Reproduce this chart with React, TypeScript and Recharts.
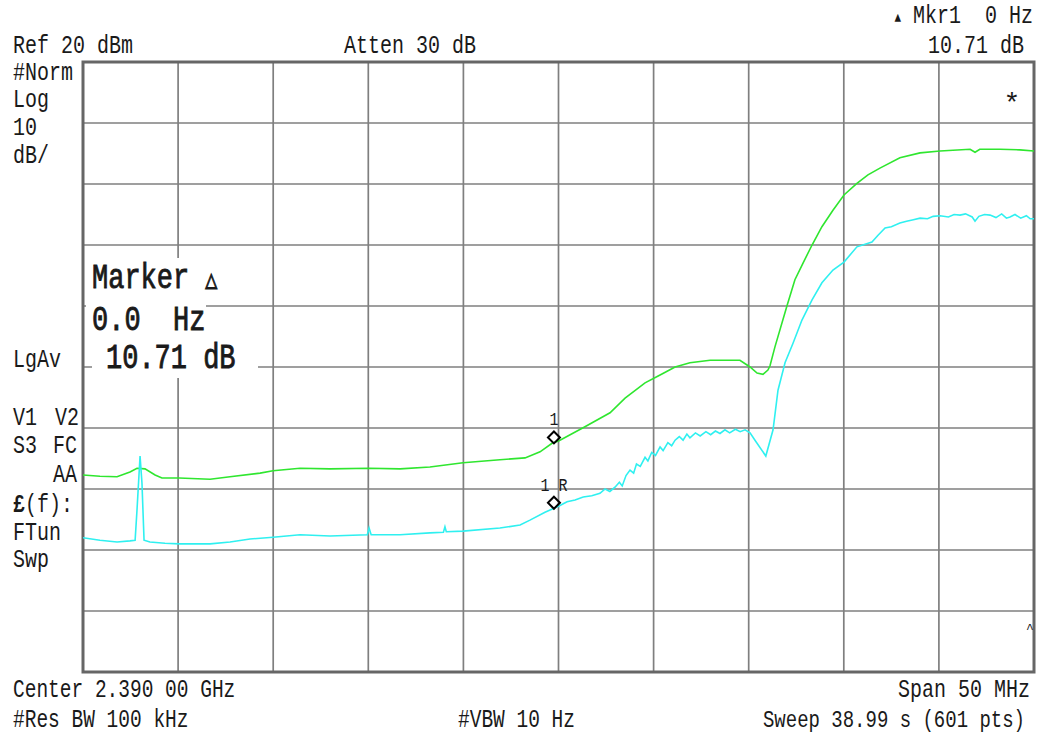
import React from "react";
import { LineChart, Line, XAxis, YAxis, CartesianGrid, ReferenceArea, ReferenceDot } from "recharts";

// Frequency axis (MHz): center 2390 MHz, span 50 MHz
const freqDomain = [2365, 2415];
const freqGridTicks = [2365, 2370, 2375, 2380, 2385, 2390, 2395, 2400, 2405, 2410, 2415];
// Level axis (dB): Ref 20 dBm, 10 dB/div
const levelDomain = [-80, 20];
const levelGridTicks = [20, 10, 0, -10, -20, -30, -40, -50, -60, -70, -80];

// Trace 1 (green)
const greenFreq = [
  2365.0, 2365.89, 2366.79, 2367.47, 2367.84, 2368.26, 2368.79, 2369.15, 2370.05, 2371.68,
  2372.73, 2374.31, 2374.99, 2376.41, 2377.99, 2380.04, 2381.67, 2383.24, 2384.98, 2386.92,
  2388.24, 2389.03, 2389.66, 2390.03, 2391.39, 2392.71, 2393.5, 2394.55, 2395.34, 2396.13,
  2396.91, 2397.97, 2399.54, 2400.07, 2400.44, 2400.75, 2401.01, 2401.12, 2401.38, 2402.01,
  2402.43, 2402.85, 2403.33, 2403.85, 2404.43, 2405.01, 2405.69, 2406.27, 2406.9, 2407.95,
  2409.01, 2410.06, 2411.64, 2411.9, 2412.15, 2413.21, 2414.26, 2415.0,
];
const greenLevel = [
  -47.7, -47.9, -48.0, -47.2, -46.6, -46.7, -47.7, -48.2, -48.2, -48.4,
  -48.0, -47.4, -47.0, -46.6, -46.7, -46.6, -46.7, -46.4, -45.7, -45.2,
  -44.9, -43.9, -42.5, -42.1, -39.8, -37.5, -35.1, -32.6, -31.3, -30.0,
  -29.3, -28.9, -28.9, -30.0, -31.0, -31.2, -30.5, -29.8, -26.7, -20.0,
  -15.7, -13.0, -10.0, -7.0, -4.3, -1.8, 0.1, 1.5, 2.6, 4.3,
  5.1, 5.4, 5.7, 5.2, 5.7, 5.7, 5.6, 5.4,
];

// Trace 2 (cyan)
const cyanFreq = [
  2365.0, 2365.89, 2366.79, 2367.47, 2367.74, 2367.84, 2368.0, 2368.1, 2368.21, 2368.52,
  2369.31, 2370.05, 2371.68, 2372.73, 2373.78, 2374.99, 2376.41, 2377.99, 2379.95, 2380.04,
  2380.15, 2381.67, 2383.24, 2383.95, 2384.03, 2384.1, 2384.98, 2386.92, 2387.98, 2388.5,
  2389.29, 2390.03, 2390.45, 2390.87, 2391.3, 2391.75, 2392.18, 2392.45, 2392.7, 2392.97,
  2393.2, 2393.35, 2393.55, 2393.76, 2393.95, 2394.1, 2394.3, 2394.55, 2394.7, 2394.9,
  2395.1, 2395.34, 2395.5, 2395.75, 2395.95, 2396.13, 2396.35, 2396.55, 2396.75, 2396.91,
  2397.2, 2397.45, 2397.75, 2398.0, 2398.25, 2398.49, 2398.75, 2399.0, 2399.3, 2399.55,
  2399.81, 2400.07, 2400.33, 2400.9, 2401.28, 2401.54, 2401.91, 2402.33, 2402.8, 2403.33,
  2403.85, 2404.43, 2405.01, 2405.69, 2406.48, 2406.8, 2407.17, 2407.5, 2407.95, 2408.3,
  2408.6, 2409.01, 2409.4, 2409.7, 2410.06, 2410.5, 2410.8, 2411.11, 2411.4, 2411.75,
  2411.9, 2412.1, 2412.4, 2412.69, 2413.0, 2413.3, 2413.55, 2413.74, 2414.0, 2414.3,
  2414.6, 2414.8, 2415.0,
];
const cyanLevel = [
  -58.0, -58.4, -58.7, -58.5, -58.4, -53.4, -44.6, -49.0, -58.4, -58.7,
  -58.9, -59.0, -59.0, -58.7, -58.2, -57.9, -57.5, -57.7, -57.5, -56.4,
  -57.5, -57.5, -57.2, -57.1, -56.2, -57.0, -56.9, -56.4, -55.9, -55.1,
  -53.8, -52.8, -52.1, -51.8, -51.3, -51.1, -50.7, -50.0, -50.4, -49.7,
  -48.9, -49.5, -47.8, -46.9, -47.4, -45.9, -46.3, -44.8, -45.4, -44.0,
  -44.5, -43.1, -43.7, -42.4, -42.9, -42.0, -41.4, -42.0, -41.0, -41.6,
  -40.8, -41.3, -40.6, -41.1, -40.5, -40.9, -40.3, -40.8, -40.2, -40.6,
  -40.3, -40.8, -42.0, -44.6, -40.3, -33.8, -29.3, -26.1, -22.3, -19.0,
  -16.2, -14.1, -12.8, -10.3, -9.5, -8.4, -7.2, -7.0, -6.4, -6.1,
  -5.9, -5.6, -5.7, -5.3, -5.2, -5.4, -5.0, -5.1, -4.9, -5.4,
  -6.1, -5.3, -5.0, -5.1, -5.5, -4.9, -5.6, -5.4, -5.0, -5.6,
  -5.2, -5.7, -5.7,
];

// Markers
const marker1 = { f: 2389.76, level: -41.55, label: "1" };
const marker1R = { f: 2389.76, level: -52.26, label: "1 R" };

const greenData = greenFreq.map((f, i) => ({ f, v: greenLevel[i] }));
const cyanData = cyanFreq.map((f, i) => ({ f, v: cyanLevel[i] }));

const FONT = "'Liberation Mono', 'DejaVu Sans Mono', monospace";
const INK = "#1a1a1a";

type TProps = {
  x: number;
  y: number;
  size?: number;
  anchor?: "start" | "middle" | "end";
  sy?: number;
  heavy?: boolean;
  children: React.ReactNode;
};
const T = ({ x, y, size = 20, anchor = "start", sy = 1.3, heavy = false, children }: TProps) => (
  <text
    transform={`translate(${x},${y}) scale(1,${sy})`}
    fontSize={size}
    textAnchor={anchor}
    fontFamily={FONT}
    fill={INK}
    stroke={heavy ? INK : "none"}
    strokeWidth={heavy ? 0.7 : 0}
    style={{ whiteSpace: "pre" }}
    xmlSpace="preserve"
  >
    {children}
  </text>
);

const Diamond = (props: any) => {
  const { cx, cy, label } = props;
  if (cx == null || cy == null) return null;
  return (
    <g>
      <polygon
        points={`${cx},${cy - 6} ${cx + 6},${cy} ${cx},${cy + 6} ${cx - 6},${cy}`}
        fill="none"
        stroke="#000"
        strokeWidth={2}
      />
      <text
        transform={`translate(${cx},${cy - 12}) scale(1,1.25)`}
        fontSize={15}
        textAnchor="middle"
        fontFamily={FONT}
        fill={INK}
        style={{ whiteSpace: "pre" }}
      >
        {label}
      </text>
    </g>
  );
};

export default function App() {
  return (
    <div style={{ position: "absolute", left: 0, top: 0, width: 1052, height: 735, background: "#fff" }}>
      <LineChart
        width={1052}
        height={735}
        margin={{ top: 62, left: 83, right: 18, bottom: 63 }}
      >
        <XAxis
          type="number"
          dataKey="f"
          domain={freqDomain}
          ticks={freqGridTicks}
          allowDataOverflow
          hide
        />
        <YAxis type="number" domain={levelDomain} ticks={levelGridTicks} allowDataOverflow hide />
        <CartesianGrid stroke="#7f7f7f" strokeWidth={1.7} />
        <ReferenceArea
          x1={freqDomain[0]}
          x2={freqDomain[1]}
          y1={levelDomain[0]}
          y2={levelDomain[1]}
          fill="none"
          fillOpacity={0}
          stroke="#666666"
          strokeWidth={3}
          ifOverflow="visible"
        />
        <Line
          data={greenData}
          dataKey="v"
          type="linear"
          stroke="#2fe62f"
          strokeWidth={1.6}
          dot={false}
          isAnimationActive={false}
        />
        <Line
          data={cyanData}
          dataKey="v"
          type="linear"
          stroke="#2ff0f0"
          strokeWidth={1.6}
          dot={false}
          isAnimationActive={false}
        />
        <ReferenceDot
          x={marker1.f}
          y={marker1.level}
          r={6}
          shape={(p: any) => <Diamond {...p} label={marker1.label} />}
        />
        <ReferenceDot
          x={marker1R.f}
          y={marker1R.level}
          r={6}
          shape={(p: any) => <Diamond {...p} label={marker1R.label} />}
        />
      </LineChart>

      <svg
        width={1052}
        height={735}
        style={{ position: "absolute", left: 0, top: 0, pointerEvents: "none" }}
      >
        {/* header */}
        <T x={1033} y={23} anchor="end">
          <tspan fontSize={11} dy={-1}>▲</tspan>
          <tspan dy={1}>{" Mkr1  0 Hz"}</tspan>
        </T>
        <T x={13} y={53}>Ref 20 dBm</T>
        <T x={344} y={53}>Atten 30 dB</T>
        <T x={1024} y={53} anchor="end">10.71 dB</T>

        {/* left annotations */}
        <T x={13} y={80}>#Norm</T>
        <T x={13} y={107}>Log</T>
        <T x={13} y={135}>10</T>
        <T x={13} y={163}>dB/</T>
        <T x={13} y={367}>LgAv</T>
        <T x={13} y={425}>V1</T>
        <T x={55} y={425}>V2</T>
        <T x={13} y={453}>S3</T>
        <T x={53} y={453}>FC</T>
        <T x={53} y={482}>AA</T>
        <T x={13} y={512}>
          <tspan fontWeight="bold">£</tspan>
          <tspan>(f):</tspan>
        </T>
        <T x={13} y={540}>FTun</T>
        <T x={13} y={567}>Swp</T>

        {/* marker readout box */}
        <rect x={86} y={258} width={145} height={41} fill="#fff" />
        <rect x={86} y={299} width={120} height={40} fill="#fff" />
        <rect x={92} y={339} width={166} height={39} fill="#fff" />
        <T x={92} y={288} size={27} heavy>
          {"Marker "}
          <tspan fontSize={20}>△</tspan>
        </T>
        <T x={92} y={330} size={27} heavy>{"0.0  Hz"}</T>
        <T x={106} y={368} size={27} heavy>10.71 dB</T>

        {/* in-graticule symbols */}
        <T x={1012} y={112} anchor="middle" size={28} sy={1}>*</T>
        <T x={1030} y={633} anchor="middle" size={13} sy={1}>^</T>

        {/* footer */}
        <T x={13} y={697} size={19.5}>Center 2.390 00 GHz</T>
        <T x={13} y={727} size={19.5}>#Res BW 100 kHz</T>
        <T x={458} y={727} size={19.5}>#VBW 10 Hz</T>
        <T x={1030} y={697} anchor="end">Span 50 MHz</T>
        <T x={1025} y={727} anchor="end" size={19}>Sweep 38.99 s (601 pts)</T>
      </svg>
    </div>
  );
}
